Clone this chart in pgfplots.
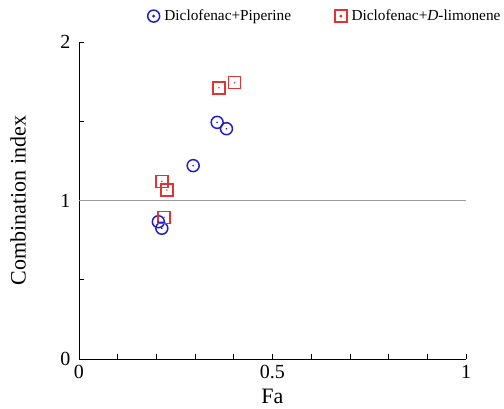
\documentclass[border=0pt]{standalone}
\usepackage{pgfplots}
\pgfplotsset{compat=1.18}
\usepackage{fontspec}
\setmainfont{Liberation Serif}
\definecolor{cblue}{RGB}{30,30,205}
\definecolor{cred}{RGB}{228,50,50}
\begin{document}
\begin{tikzpicture}
\useasboundingbox (0,0) rectangle (504pt,408pt);
\begin{axis}[
  at={(79pt,49pt)}, anchor=origin,
  scale only axis, width=387pt, height=317pt,
  xmin=0, xmax=1, ymin=0, ymax=2,
  axis x line=bottom, axis y line=left,
  axis line style={-, line width=0.8pt},
  xtick={0,0.5,1}, xticklabels={0,0.5,1},
  minor x tick num=4,
  ytick={0,1,2}, yticklabels={0,1,2},
  minor y tick num=1,
  tick align=inside,
  major tick length=5pt, minor tick length=5pt,
  tick style={line width=0.8pt, black},
  /pgf/number format/assume math mode=true,
  ticklabel style={font=\fontsize{20}{22}\selectfont},
  xticklabel style={yshift=-3pt},
  yticklabel style={xshift=-5pt},
  xlabel={Fa}, ylabel={Combination index},
  label style={font=\fontsize{22}{24}\selectfont},
  xlabel style={at={(axis description cs:0.5,0)}, anchor=center, yshift=-37pt},
  ylabel style={at={(axis description cs:0,0.5)}, anchor=center, yshift=61pt},
  clip=false,
  legend columns=2,
  legend style={draw=none, fill=none, at={(rel axis cs:0.175,1.108)}, anchor=north west,
    font=\fontsize{15.3}{17}\selectfont, inner sep=0pt,
    /tikz/every odd column/.append style={column sep=2pt},
    /tikz/every even column/.append style={column sep=41pt}},
  legend cell align=left,
]
\addplot[gray!80, line width=0.6pt, forget plot] coordinates {(0,1) (1,1)};
\addplot[only marks, mark=o, mark size=6pt, draw=cblue, line width=1.5pt,
  legend image code/.code={
    \draw[cblue, line width=1.5pt] (0.3cm,0) circle (6pt);
    \fill[cblue] (0.3cm,0) circle (0.6pt);}]
coordinates {(0.357,1.493) (0.381,1.453) (0.295,1.22) (0.205,0.866) (0.214,0.825)};
\addlegendentry{Diclofenac+Piperine}
\addplot[only marks, mark=square, mark size=6pt, draw=cred, line width=1.5pt,
  legend image code/.code={
    \draw[cred, line width=1.5pt] (0.3cm-6pt,-6pt) rectangle (0.3cm+6pt,6pt);
    \fill[cred] (0.3cm,0) circle (0.5pt);}]
coordinates {(0.3615,1.711) (0.402,1.743) (0.214,1.121) (0.227,1.066) (0.220,0.894)};
\addlegendentry{Diclofenac+\textit{D}-limonene}
\addplot[only marks, mark=*, mark size=0.6pt, cblue, forget plot]
coordinates {(0.357,1.493) (0.381,1.453) (0.295,1.22) (0.205,0.866) (0.214,0.825)};
\addplot[only marks, mark=*, mark size=0.5pt, cred, forget plot]
coordinates {(0.3615,1.711) (0.402,1.743) (0.214,1.121) (0.227,1.066) (0.220,0.894)};
\end{axis}
\end{tikzpicture}
\end{document}
